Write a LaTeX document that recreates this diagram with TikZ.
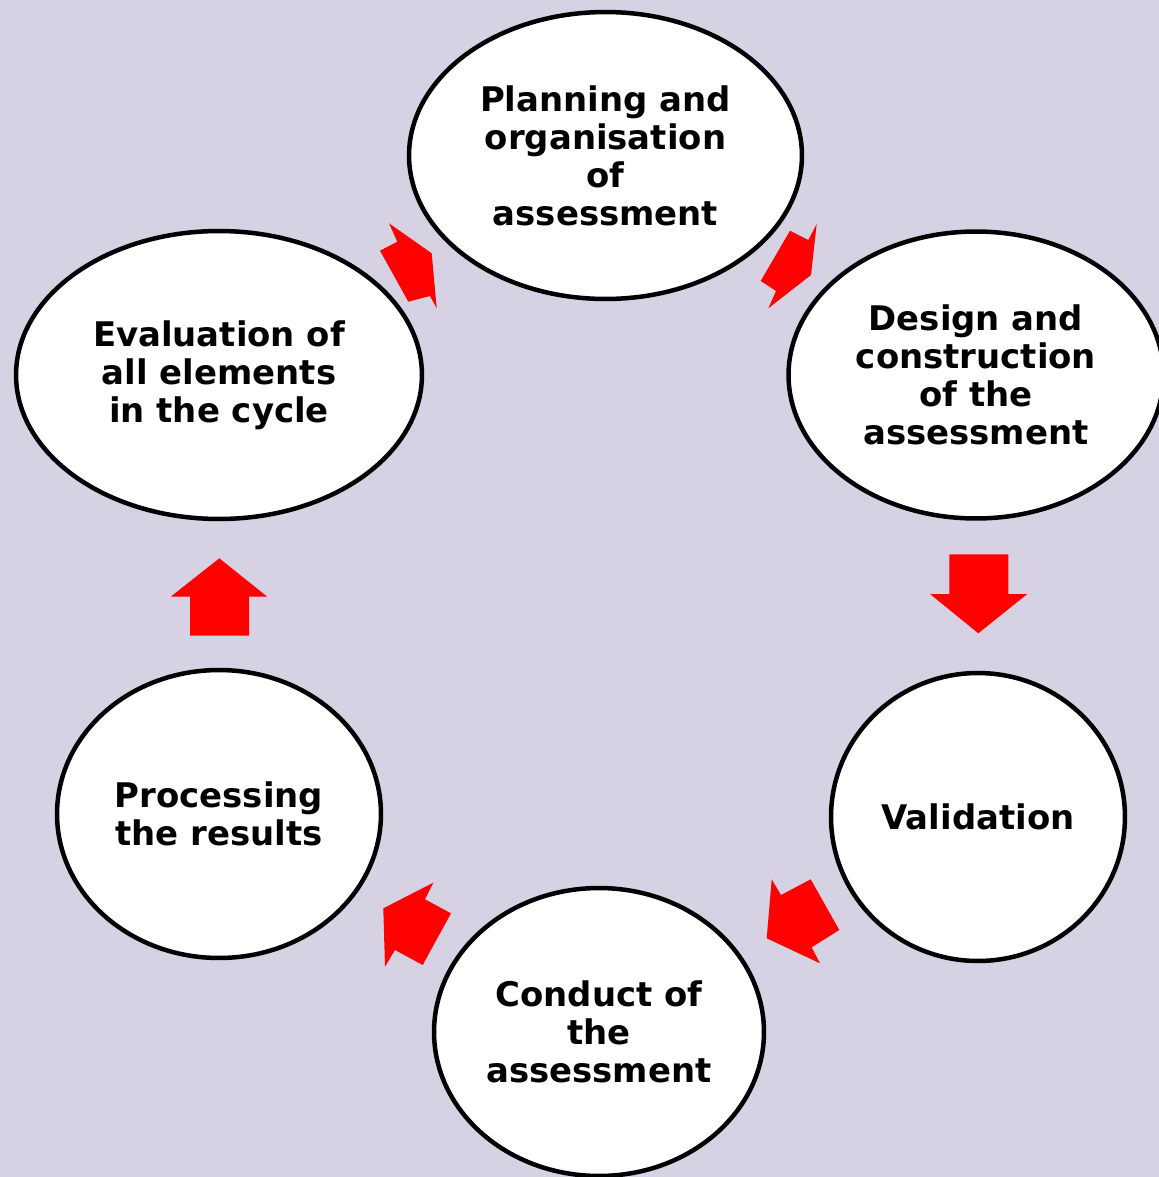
\documentclass[tikz,border=0pt]{standalone}
\usepackage{fontspec}
\setmainfont{DejaVu Sans}
\usetikzlibrary{shapes.geometric}
\definecolor{bgpaper}{RGB}{214,209,227}
\begin{document}
\begin{tikzpicture}[x=0.02cm, y=-0.02cm, font=\bfseries\fontsize{19.3}{21.6}\selectfont, every node/.style={ellipse, draw, fill=white, line width=0.09cm, align=center, inner sep=0pt, minimum height=5.76cm}]
    \fill[bgpaper] (0,0) rectangle (1159,1177);
    \useasboundingbox (0,0) rectangle (1159,1177);

    \node[minimum width=7.86cm, minimum height=5.74cm] (plan) at (605.5, 155.5) {Planning and\\organisation\\of\\assessment};
    \node[minimum width=7.5cm, minimum height=5.74cm] (design) at (976, 375) {Design and\\construction\\of the\\assessment};
    \node[minimum width=5.88cm] (valid) at (978, 817) {Validation};
    \node[minimum width=6.6cm] (conduct) at (599, 1032) {Conduct of\\the\\assessment};
    \node[minimum width=6.48cm] (process) at (219, 814) {Processing\\the results};
    \node[minimum width=8.12cm] (eval) at (219, 375) {Evaluation of\\all elements\\in the cycle};

    \fill[red] (380, 250.7) -- (397.3, 241.7) -- (389, 223.3) -- (431.7, 253.3) -- (436.7, 308.3) -- (430, 296) -- (408.3, 301.7) -- cycle;
    \fill[red] (790, 230.7) -- (808.3, 240) -- (816.7, 224) -- (811, 275) -- (768.3, 308.3) -- (776, 291) -- (760.7, 281) -- cycle;
    \fill[red] (949.3, 554.3) -- (1008.3, 554.3) -- (1008.3, 594) -- (1027.3, 594) -- (978.3, 633.3) -- (930, 594) -- (949.3, 594) -- cycle;
    \fill[red] (810.7, 879.3) -- (839.3, 930) -- (811.7, 947.3) -- (820, 963.3) -- (766.7, 938.3) -- (771.7, 879.3) -- (781, 895) -- cycle;
    \fill[red] (451, 913.3) -- (422.7, 965) -- (395, 950) -- (385, 966.7) -- (383.3, 908.3) -- (433.3, 882.7) -- (425, 899.3) -- cycle;
    \fill[red] (190, 635.7) -- (249, 635.7) -- (249, 596.7) -- (267.3, 596.7) -- (219.3, 558.3) -- (170.7, 596.7) -- (190, 596.7) -- cycle;
\end{tikzpicture}
\end{document}
